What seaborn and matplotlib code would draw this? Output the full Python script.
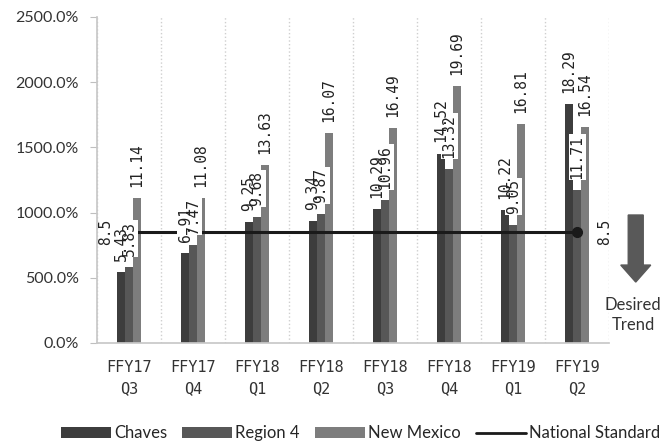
import numpy as np
import pandas as pd
import seaborn as sns
import matplotlib.pyplot as plt
from matplotlib.patches import FancyArrow, Rectangle
from matplotlib.lines import Line2D

# данные с картинки
quarters = ['FFY17\nQ3', 'FFY17\nQ4', 'FFY18\nQ1', 'FFY18\nQ2',
            'FFY18\nQ3', 'FFY18\nQ4', 'FFY19\nQ1', 'FFY19\nQ2']
chaves = [5.43, 6.91, 9.25, 9.34, 10.29, 14.52, 10.22, 18.29]
region4 = [5.83, 7.47, 9.68, 9.87, 10.96, 13.32, 9.05, 11.71]
new_mexico = [11.14, 11.08, 13.63, 16.07, 16.49, 19.69, 16.81, 16.54]
national = [8.5] * len(quarters)

series = ['Chaves', 'Region 4', 'New Mexico']
colors = ['#3d3d3d', '#575757', '#7d7d7d']

rows = []
for name, vals in zip(series, [chaves, region4, new_mexico]):
    for q, v in zip(quarters, vals):
        rows.append({'quarter': q, 'series': name, 'value': v, 'pct': v * 100})
df = pd.DataFrame(rows)

sns.set_theme(style='white')
plt.rcParams['font.family'] = ['Lato', 'DejaVu Sans']

fig = plt.figure(figsize=(6.65, 4.47), dpi=100)
ax = fig.add_axes([0.146, 0.233, 0.77, 0.729])

sns.barplot(data=df, x='quarter', y='pct', hue='series', order=quarters,
            hue_order=series, palette=colors, width=0.375, saturation=1,
            linewidth=0, ax=ax)

# подписи над столбиками
bar_labels = []
for cont, vals in zip(ax.containers, [chaves, region4, new_mexico]):
    for bar, v in zip(cont, vals):
        t = ax.annotate(str(v), (bar.get_x() + bar.get_width() / 2, bar.get_height()),
                        xytext=(0, 8), textcoords='offset points', rotation=90,
                        ha='center', va='bottom', fontsize=10.5,
                        family='DejaVu Sans Mono', color='#222222', zorder=4)
        bar_labels.append(t)

# национальный стандарт
xs = np.arange(len(quarters))
ax.plot(xs, [n * 100 for n in national], color='#1a1a1a', lw=2.2,
        marker='o', markersize=7, markevery=[0, len(xs) - 1], zorder=2.5)
ax.annotate(str(national[0]), (xs[0], national[0] * 100), xytext=(-17, 0),
            textcoords='offset points', rotation=90, ha='center', va='center',
            fontsize=10.5, family='DejaVu Sans Mono', color='#222222')
ax.annotate(str(national[-1]), (xs[-1], national[-1] * 100), xytext=(20, 0),
            textcoords='offset points', rotation=90, ha='center', va='center',
            fontsize=10.5, family='DejaVu Sans Mono', color='#222222')

ax.set_ylim(0, 2500)
ax.set_xlim(-0.5, len(quarters) - 0.5)
ax.set_yticks(np.arange(0, 2501, 500))
ax.set_yticklabels([f'{t:.1f}%' for t in np.arange(0, 2501, 500)], fontsize=11.5,
                   color='#333333')
ax.set_xlabel('')
ax.set_ylabel('')

ax.set_xticks(xs)
ax.set_xticklabels(quarters, fontsize=11, family='DejaVu Sans Mono', color='#333333')
for lbl in ax.get_xticklabels():
    lbl.set_linespacing(1.55)
ax.tick_params(axis='x', length=0, pad=12)
ax.tick_params(axis='y', length=5, width=0.8, color='#bfbfbf', left=True, pad=8)

# вертикальная сетка по границам групп
ax.set_xticks(np.arange(-0.5, len(quarters), 1), minor=True)
ax.tick_params(axis='x', which='minor', length=0)
ax.grid(which='minor', axis='x', color='#cfcfcf', linestyle=':', linewidth=1)
ax.grid(which='major', axis='y', visible=False)

for s in ['top', 'right']:
    ax.spines[s].set_visible(False)
ax.spines['left'].set_color('#c8c8c8')
ax.spines['bottom'].set_color('#c8c8c8')

# белые подложки под подписями (под всем текстом, но над столбиками)
fig.canvas.draw()
inv = ax.transData.inverted()
for t in bar_labels:
    bb = t.get_window_extent().expanded(1.0, 1.0)
    (x0, y0), (x1, y1) = inv.transform([[bb.x0 - 1, bb.y0 - 1], [bb.x1 + 1, bb.y1 + 1]])
    ax.add_patch(Rectangle((x0, y0), x1 - x0, y1 - y0, facecolor='white',
                           edgecolor='none', zorder=3))

# легенда
handles, labels = ax.get_legend_handles_labels()
ax.get_legend().remove()
handles = list(handles) + [Line2D([0], [0], color='#1a1a1a', lw=2)]
labels = list(labels) + ['National Standard']
fig.legend(handles, labels, loc='center', bbox_to_anchor=(0.542, 0.031), ncol=4,
           frameon=False, fontsize=12, handlelength=3.0, handleheight=0.6,
           handletextpad=0.2, columnspacing=0.9)

# стрелка "Desired Trend"
fig.patches.append(FancyArrow(0.956, 0.519, 0, -0.15, width=15 / 665,
                              head_width=30 / 665, head_length=17 / 447,
                              length_includes_head=True, color='#595959',
                              transform=fig.transFigure, figure=fig))
fig.text(0.952, 0.295, 'Desired\nTrend', ha='center', va='center', fontsize=12,
         color='#333333', linespacing=1.3)

fig.savefig('out.png', dpi=100)
